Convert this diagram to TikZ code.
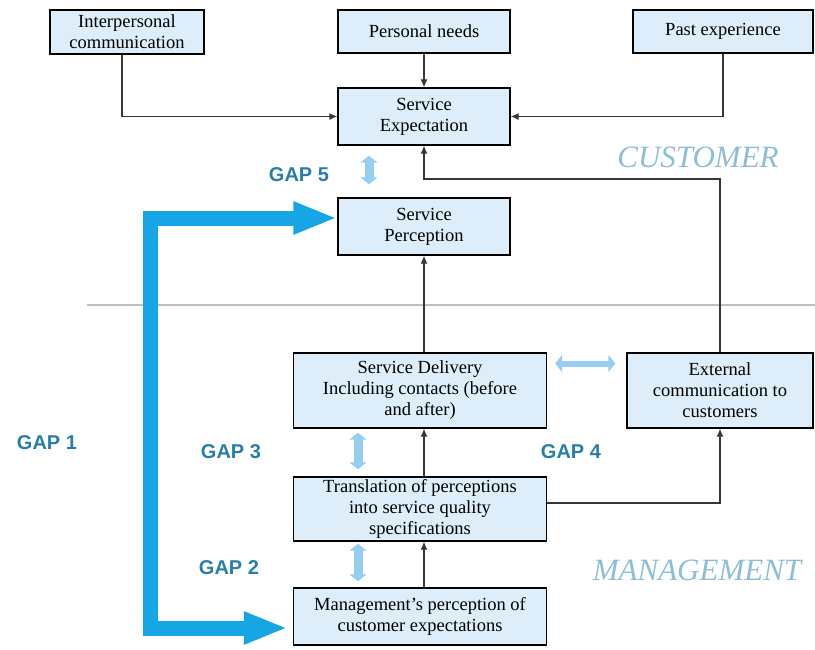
\documentclass[tikz,border=0pt]{standalone}
\usepackage{fontspec}
\setmainfont{Liberation Serif}
\setsansfont{Liberation Sans}
\usetikzlibrary{arrows.meta,positioning,calc}
\definecolor{boxblue}{RGB}{221,238,250}
\definecolor{bigblue}{RGB}{22,166,230}
\definecolor{gapblue}{RGB}{150,205,240}
\definecolor{gapteal}{RGB}{40,126,170}
\definecolor{areablue}{RGB}{140,190,215}
\definecolor{linkgrey}{RGB}{55,55,55}
\definecolor{rulegrey}{RGB}{192,192,192}

\begin{document}
\begin{tikzpicture}
            [
            x=1pt, y=-1pt,
            box/.style={draw, line width=1.4pt, fill=boxblue, align=center,
                inner sep=1pt, font=\fontsize{18.5}{21}\selectfont},
            link/.style={linkgrey, line width=1.1pt, -{Latex[length=8pt,width=7pt]}},
            gap arrow/.style={gapblue, line width=9pt,
                {Triangle[length=7pt,width=17pt]}-{Triangle[length=7pt,width=17pt]}},
            gap label/.style={text=gapteal, font=\sffamily\bfseries\fontsize{20}{24}\selectfont},
            area label/.style={text=areablue, font=\itshape\fontsize{31}{36}\selectfont}
            ]
            \useasboundingbox (0,0) rectangle (815,649);

            % Customer side
            \node (ipc) [box, minimum width=154pt, minimum height=44pt] at (127,32) {Interpersonal\\communication};
            \node (needs) [box, minimum width=172pt, minimum height=43pt] at (424,31.5) {Personal needs};
            \node (past) [box, minimum width=180pt, minimum height=43pt] at (723,31.5) {Past experience};
            \node (expect) [box, minimum width=172pt, minimum height=57pt] at (424,116.5) {Service\\Expectation};
            \node (percep) [box, minimum width=172pt, minimum height=57pt] at (424,226.5) {Service\\Perception};

            % Management side
            \node (deliv) [box, minimum width=253pt, minimum height=75pt] at (420,390.5) {Service Delivery\\Including contacts (before\\and after)};
            \node (extcom) [box, minimum width=186pt, minimum height=75pt] at (720,390.5) {External\\communication to\\customers};
            \node (transl) [box, minimum width=253pt, minimum height=64pt] at (420,509) {Translation of perceptions\\into service quality\\specifications};
            \node (mgmt) [box, minimum width=253pt, minimum height=57pt] at (420,616.5) {Management's perception of\\customer expectations};

            \draw [rulegrey, line width=1.5pt] (87,305) -- (815,305);

            \node (cust) [area label] at (698,157) {CUSTOMER};
            \node (mgt) [area label] at (697,570) {MANAGEMENT};

            \draw [link] ([xshift=-5pt]ipc.south) |- (expect.west);
            \draw [link] (needs) -- (expect);
            \draw [link] (past.south) |- (expect.east);
            \coordinate (bend) at (424,179);
            \draw [link] (extcom.north) |- (bend) -- (expect.south);
            \draw [link] (deliv.north -| percep) -- (percep.south);
            \draw [link] (transl.north -| percep) -- (deliv.south -| percep);
            \draw [link] (mgmt.north -| percep) -- (transl.south -| percep);
            \draw [link] ([yshift=6pt]transl.east) -| (extcom.south);

            % Gaps
            \coordinate (g1top) at (150,218);
            \coordinate (g1bot) at (150,628);
            \draw [bigblue, line width=15pt, line join=miter,
                {Triangle[length=44pt,width=30pt]}-{Triangle[length=44pt,width=30pt]}]
                (percep.west |- g1top) -- (g1top) -- (g1bot) -- ([xshift=-5pt]mgmt.west |- g1bot);
            \draw [gap arrow, shorten <=10pt, shorten >=13pt] ([xshift=-55pt]expect.south) -- ([xshift=-55pt]percep.north);
            \draw [gap arrow, shorten <=4pt, shorten >=7pt] (deliv.south -| 358,0) -- (transl.north -| 358,0);
            \draw [gap arrow, shorten <=2pt, shorten >=6pt] (transl.south -| 358,0) -- (mgmt.north -| 358,0);
            \draw [gap arrow, line width=6pt, shorten <=8pt, shorten >=11pt] ([yshift=27pt]deliv.east) -- ([yshift=27pt]extcom.west);

            \node (gap1) [gap label] at (47,443) {GAP 1};
            \node (gap2) [gap label] at (229,568) {GAP 2};
            \node (gap3) [gap label] at (231,452) {GAP 3};
            \node (gap4) [gap label] at (571,452) {GAP 4};
            \node (gap5) [gap label] at (299,175) {GAP 5};
        \end{tikzpicture}
\end{document}
